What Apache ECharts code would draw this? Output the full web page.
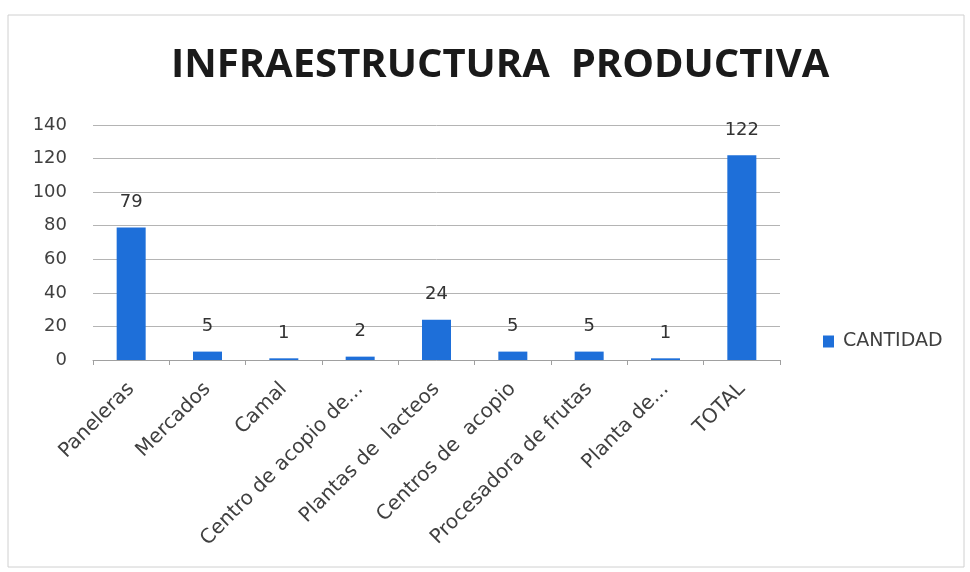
<!DOCTYPE html>
<html><head><meta charset="utf-8">
<script src="https://cdn.jsdelivr.net/npm/echarts@6/dist/echarts.min.js"></script>
<style>html,body{margin:0;padding:0;background:#fff}#c{width:970px;height:572px}</style>
</head><body><div id="c"></div>
<script>
const categories = ["Paneleras","Mercados","Camal","Centro de acopio de...","Plantas de  lacteos","Centros de  acopio","Procesadora de frutas","Planta de...","TOTAL"];
const cantidad = [79,5,1,2,24,5,5,1,122];
const yTicks = {min:0,max:140,interval:20};
const seriesName = "CANTIDAD";
const titleText = "INFRAESTRUCTURA  PRODUCTIVA";

const chart = echarts.init(document.getElementById('c'), null, {renderer:'canvas'});
chart.setOption({
  animation:false,
  backgroundColor:'#ffffff',
  graphic:[{type:'rect',shape:{x:8,y:15,width:956,height:552},style:{fill:'none',stroke:'#d0d0d0',lineWidth:1}}],
  title:{text:titleText,left:166,top:41,textStyle:{fontFamily:'Open Sans',fontWeight:'bold',fontSize:40,color:'#1a1a1a'}},
  legend:{data:[seriesName],left:818,top:327,itemWidth:11,itemHeight:12,itemGap:6,icon:'rect',
    textStyle:{fontFamily:'DejaVu Sans',fontSize:19,color:'#404040',padding:[0,0,0,4]}},
  grid:{left:93,right:190,top:125,bottom:212,containLabel:false},
  xAxis:{type:'category',data:categories,boundaryGap:true,
    axisLine:{lineStyle:{color:'#a0a0a0'}},
    axisTick:{show:true,length:5,lineStyle:{color:'#a0a0a0'}},
    axisLabel:{rotate:45,interval:0,fontFamily:'DejaVu Sans',fontSize:20,color:'#404040',margin:26}},
  yAxis:{type:'value',min:yTicks.min,max:yTicks.max,interval:yTicks.interval,
    axisLine:{show:false},axisTick:{show:false},
    splitLine:{lineStyle:{color:'#b4b4b4'}},
    axisLabel:{fontFamily:'DejaVu Sans',fontSize:18,color:'#404040',margin:26}},
  series:[{name:seriesName,type:'bar',data:cantidad,barWidth:'38%',
    itemStyle:{color:'#1e6fd9'},
    label:{show:true,position:'top',distance:16,fontFamily:'DejaVu Sans',fontSize:18,color:'#333333'}}]
});
</script></body></html>
